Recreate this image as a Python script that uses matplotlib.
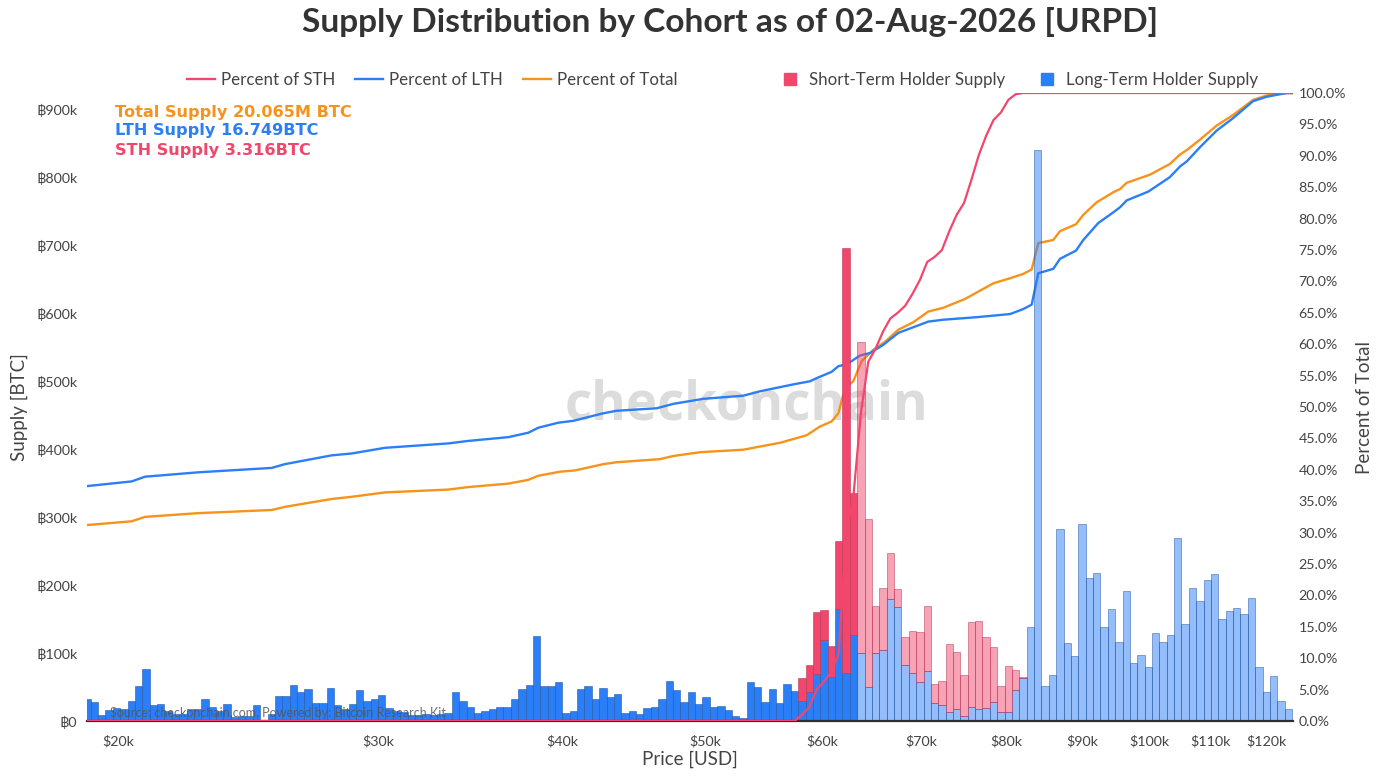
import numpy as np
import matplotlib
matplotlib.use("Agg")
import matplotlib.pyplot as plt
from matplotlib.lines import Line2D
from matplotlib.colors import to_rgba
from matplotlib.ticker import NullLocator

plt.rcParams['font.family'] = ['Lato', 'DejaVu Sans', 'Noto Sans']

# ---------------- data ----------------
BIN_FIRST_EDGE = 18947.0      # USD, lower edge of first price bucket
BIN_RATIO = 1.011564          # geometric bucket width
SPOT_PRICE = 63400.0          # current price (buckets above are drawn faded)

# supply per bucket, thousands of BTC
LTH_SUPPLY_K = [
    32, 28, 9, 16, 19, 18, 30, 52, 77, 23,
    25, 14, 10, 10, 17, 17, 32, 20, 15, 25,
    6, 7, 7, 23, 1, 11, 37, 37, 53, 43,
    47, 26, 26, 48, 23, 18, 25, 46, 30, 32,
    38, 19, 14, 13, 9, 9, 11, 9, 10, 12,
    42, 29, 21, 12, 15, 17, 20, 20, 33, 47,
    53, 125, 51, 51, 57, 12, 14, 47, 52, 33,
    48, 36, 40, 12, 14, 11, 19, 20, 32, 59,
    46, 28, 42, 25, 35, 21, 22, 16, 7, 4,
    58, 50, 28, 47, 26, 55, 44, 30, 42, 69,
    119, 64, 164, 70, 126, 100, 50, 100, 105, 179,
    167, 83, 70, 58, 73, 27, 23, 13, 18, 7,
    20, 17, 19, 28, 13, 13, 45, 63, 138, 840,
    52, 68, 283, 114, 96, 289, 210, 217, 138, 165,
    116, 191, 85, 97, 79, 130, 116, 126, 269, 142,
    195, 176, 207, 216, 150, 162, 166, 157, 181, 79,
    42, 66, 30, 17,
]
STH_SUPPLY_K = ([0] * 97 +
                [33, 41, 92, 44, 47, 101, 625, 209, 457, 247,
                 69, 91, 68, 27, 41, 62, 73, 96, 28, 36,
                 100, 83, 61, 126, 130, 104, 81, 38, 68, 30, 2] +
                [0] * 36)

# cumulative percentage lines (price USD, percent)
LTH_LINE_PRICE = [19050, 20430, 20860, 22670, 25420, 25950, 27910, 28800, 30330, 33480,
                  34540, 36770, 37930, 38530, 39750, 40690, 42640, 43540, 46350, 47560,
                  49840, 53050, 54450, 57350, 58870, 59490, 60890, 61530, 62340, 63650,
                  64650, 66000, 67560, 69160, 70800, 72470, 76350, 80430, 82110, 83190,
                  84050, 86040, 86950, 89140, 90170, 92300, 94490, 95480, 96480, 99790,
                  103200, 104850, 105950, 108200, 111000, 113900, 117500, 120000, 123800, 125100]
LTH_LINE_PCT = [37.4, 38.15, 38.9, 39.6, 40.3, 40.9, 42.3, 42.6, 43.5, 44.2,
                44.6, 45.2, 45.9, 46.7, 47.5, 47.8, 49.0, 49.4, 49.8, 50.5,
                51.3, 51.8, 52.5, 53.6, 54.1, 54.6, 55.6, 56.5, 56.8, 58.2,
                58.6, 59.9, 61.8, 62.7, 63.6, 63.9, 64.3, 64.8, 65.6, 66.3,
                71.3, 72.0, 73.6, 74.9, 76.6, 79.3, 81.0, 81.8, 82.9, 84.3,
                86.6, 88.3, 89.1, 91.4, 94.0, 96.0, 98.7, 99.4, 100, 100]

TOTAL_LINE_PRICE = [19050, 20430, 20860, 22670, 25420, 25950, 27910, 28800, 30330, 33480,
                    34540, 36770, 37930, 38530, 39860, 40800, 42640, 43540, 46590, 47560,
                    49590, 53050, 54450, 56180, 58560, 59800, 60890, 61530, 62010, 62390,
                    62980, 63810, 64980, 66180, 67560, 69160, 70800, 72470, 74970, 78360,
                    80430, 82110, 83190, 84050, 86040, 86950, 89140, 90170, 92070, 94490,
                    95480, 96480, 100060, 103200, 104850, 105950, 108200, 111000, 113900, 117500,
                    120000, 123800, 125100]
TOTAL_LINE_PCT = [31.2, 31.8, 32.5, 33.1, 33.6, 34.1, 35.35, 35.7, 36.4, 36.85,
                  37.25, 37.8, 38.4, 39.05, 39.7, 39.9, 40.9, 41.2, 41.7, 42.2,
                  42.8, 43.2, 43.7, 44.3, 45.5, 46.9, 47.7, 49.0, 52.0, 53.3,
                  54.1, 57.3, 59.1, 60.4, 62.3, 63.5, 65.2, 65.8, 67.2, 69.7,
                  70.5, 71.2, 71.9, 76.1, 76.6, 78.0, 79.1, 80.6, 82.6, 84.2,
                  84.7, 85.7, 87.0, 88.7, 90.2, 90.9, 92.6, 94.8, 96.5, 98.9,
                  99.6, 100, 100]

STH_LINE_PRICE = [19050, 57470, 58130, 58800, 59480, 60170, 60860, 61570, 62280, 63000,
                  63730, 64470, 65210, 65970, 66730, 67500, 68280, 69070, 69870, 70680,
                  71500, 72320, 73160, 74000, 74860, 75730, 76600, 77490, 78380, 79290,
                  80210, 81130, 82070, 125100]
STH_LINE_PCT = [0, 0, 1.0, 2.2, 5.0, 6.3, 7.8, 10.8, 29.6, 35.9,
                49.0, 57.2, 59.3, 62.0, 64.1, 65.0, 66.1, 68.0, 70.2, 73.1,
                73.9, 75.0, 78.0, 80.6, 82.5, 86.2, 90.1, 93.2, 95.7, 96.9,
                98.9, 99.8, 100, 100]

X_TICKS = [20000, 30000, 40000, 50000, 60000, 70000, 80000, 90000, 100000, 110000, 120000]
X_TICK_LABELS = ['$20k', '$30k', '$40k', '$50k', '$60k', '$70k', '$80k', '$90k',
                 '$100k', '$110k', '$120k']
Y_TICKS_K = [0, 100, 200, 300, 400, 500, 600, 700, 800, 900]
Y_TICK_LABELS = ['฿0', '฿100k', '฿200k', '฿300k', '฿400k', '฿500k', '฿600k',
                 '฿700k', '฿800k', '฿900k']
PCT_TICKS = list(range(0, 101, 5))

TITLE = 'Supply Distribution by Cohort as of 02-Aug-2026 [URPD]'
TOTAL_TXT = 'Total Supply 20.065M BTC'
LTH_TXT = 'LTH Supply 16.749BTC'
STH_TXT = 'STH Supply 3.316BTC'

# ---------------- style ----------------
RED = '#f2466c'
BLUE = '#2a7ff8'
ORANGE = '#f7931a'
TXT = '#444444'

W, H = 1396, 778
fig = plt.figure(figsize=(W / 100, H / 100), dpi=100)
PL, PR, PT, PB = 87, 1293, 93, 721
rect = [PL / W, 1 - PB / H, (PR - PL) / W, (PB - PT) / H]

XMIN, XMAX = 19056, 125060
YMAX_K = 923.5

ax_pct = fig.add_axes(rect, zorder=1)    # LTH / total lines (under bars)
ax = fig.add_axes(rect, zorder=2)        # bars
ax_top = fig.add_axes(rect, zorder=3)    # STH line (over bars)

for a in (ax_pct, ax, ax_top):
    a.set_xscale('log')
    a.set_xlim(XMIN, XMAX)
    a.xaxis.set_minor_locator(NullLocator())
    for s in a.spines.values():
        s.set_visible(False)
ax.patch.set_visible(False)
ax_top.patch.set_visible(False)

# bars
n = len(LTH_SUPPLY_K)
edges = BIN_FIRST_EDGE * BIN_RATIO ** np.arange(n + 1)
left = edges[:-1]
width = np.diff(edges)
center = np.sqrt(edges[:-1] * edges[1:])
lth = np.array(LTH_SUPPLY_K, dtype=float)
sth = np.array(STH_SUPPLY_K, dtype=float)
faded = center > SPOT_PRICE

def cols(base, fade_mask):
    dark = '#1d4f9a' if base == BLUE else '#b3304f'
    face = [to_rgba(base, 0.5) if f else to_rgba(base, 1.0) for f in fade_mask]
    edge = [to_rgba(dark, 0.55 if f else 0.6) for f in fade_mask]
    return face, edge

fc, ec = cols(BLUE, faded)
ax.bar(left, lth, width=width, align='edge', color=fc, edgecolor=ec, linewidth=0.6)
m = sth > 0
fc, ec = cols(RED, faded[m])
ax.bar(left[m], sth[m], width=width[m], bottom=lth[m], align='edge',
       color=fc, edgecolor=ec, linewidth=0.6)

ax.set_ylim(0, YMAX_K)
ax.set_yticks(Y_TICKS_K)
ax.set_yticklabels(Y_TICK_LABELS)
ax.set_xticks(X_TICKS)
ax.set_xticklabels(X_TICK_LABELS)
ax.tick_params(axis='both', length=0, labelsize=10.3, labelcolor=TXT)
ax.tick_params(axis='y', pad=7)
ax.tick_params(axis='x', pad=10)
ax.spines['bottom'].set_visible(True)
ax.spines['bottom'].set_color('#2e2e2e')
ax.spines['bottom'].set_linewidth(1.6)
ax.set_ylabel('Supply [BTC]', fontsize=13.5, color=TXT)
ax.yaxis.set_label_coords((28 - PL) / (PR - PL), 0.5)
ax.set_xlabel('Price [USD]', fontsize=13.5, color=TXT)
ax.xaxis.set_label_coords(0.5, (PB - 751) / (PB - PT))

# percent axis
ax_pct.set_ylim(0, 100)
ax_pct.yaxis.tick_right()
ax_pct.yaxis.set_label_position('right')
ax_pct.set_yticks(PCT_TICKS)
ax_pct.set_yticklabels([f'{v:.1f}%' for v in PCT_TICKS])
ax_pct.tick_params(axis='y', length=0, labelsize=10.3, labelcolor=TXT, pad=4)
ax_pct.tick_params(axis='x', length=0, labelbottom=False)
ax_pct.set_ylabel('Percent of Total', fontsize=13.5, color=TXT, rotation=90)
ax_pct.yaxis.set_label_coords((1356 - PL) / (PR - PL), 0.5)

wm = ax_pct.text((746 - PL) / (PR - PL), (PB - 405) / (PB - PT), 'checkonchain',
                 transform=ax_pct.transAxes, ha='center', va='center', fontsize=38,
                 fontweight='bold', color='#dcdcdc', family=['Open Sans', 'DejaVu Sans'],
                 zorder=0)
ax_pct.plot(TOTAL_LINE_PRICE, TOTAL_LINE_PCT, color=ORANGE, lw=1.7, zorder=3)
ax_pct.plot(LTH_LINE_PRICE, LTH_LINE_PCT, color=BLUE, lw=1.7, zorder=3)

ax_top.set_ylim(0, 100)
ax_top.set_xticks([])
ax_top.set_yticks([])
ax_top.plot(STH_LINE_PRICE, STH_LINE_PCT, color=RED, lw=1.6, zorder=3)

ax_top.text((110 - PL) / (PR - PL), (PB - 713) / (PB - PT),
            'Source: checkonchain.com, Powered by: Bitcoin Research Kit',
            transform=ax_top.transAxes, ha='left', va='center', fontsize=9,
            color='#555555', alpha=0.85)

for txt, col, y in ((TOTAL_TXT, ORANGE, 112), (LTH_TXT, BLUE, 131), (STH_TXT, RED, 151)):
    fig.text(115 / W, 1 - y / H, txt, ha='left', va='center', fontsize=11.6,
             fontweight='bold', color=col, family=['DejaVu Sans'])

title = fig.text(730 / W, 1 - 22 / H, TITLE, ha='center', va='center', fontsize=21,
                 fontweight='bold', color='#333333')

LEG_FS = 12.2
fs_px = LEG_FS * 100 / 72
h1 = [Line2D([], [], color=RED, lw=1.7), Line2D([], [], color=BLUE, lw=1.7),
      Line2D([], [], color=ORANGE, lw=1.7)]
leg1 = fig.legend(h1, ['Percent of STH', 'Percent of LTH', 'Percent of Total'],
                  loc='center left', bbox_to_anchor=(187 / W, 1 - 80 / H), ncol=3,
                  frameon=False, fontsize=LEG_FS, handlelength=28 / fs_px,
                  handletextpad=6 / fs_px, columnspacing=20 / fs_px,
                  borderpad=0, borderaxespad=0, labelcolor=TXT)
sq = 12 * 0.72
h2 = [Line2D([], [], marker='s', ls='none', ms=sq, color=RED),
      Line2D([], [], marker='s', ls='none', ms=sq, color=BLUE)]
box = 1.0 * fs_px
off = (box - 12) / 2
leg2 = fig.legend(h2, ['Short-Term Holder Supply', 'Long-Term Holder Supply'],
                  loc='center left', bbox_to_anchor=((784 - off) / W, 1 - 80 / H), ncol=2,
                  frameon=False, fontsize=LEG_FS, handlelength=1.0,
                  handletextpad=(13 - off) / fs_px, columnspacing=(36 - off) / fs_px,
                  borderpad=0, borderaxespad=0, labelcolor=TXT)

# fit title width to the reference layout (302..1158 px)
fig.canvas.draw()
r = fig.canvas.get_renderer()
tw = title.get_window_extent(r).width
title.set_fontsize(21 * 856 / tw)

fig.savefig('out.png', dpi=100)
